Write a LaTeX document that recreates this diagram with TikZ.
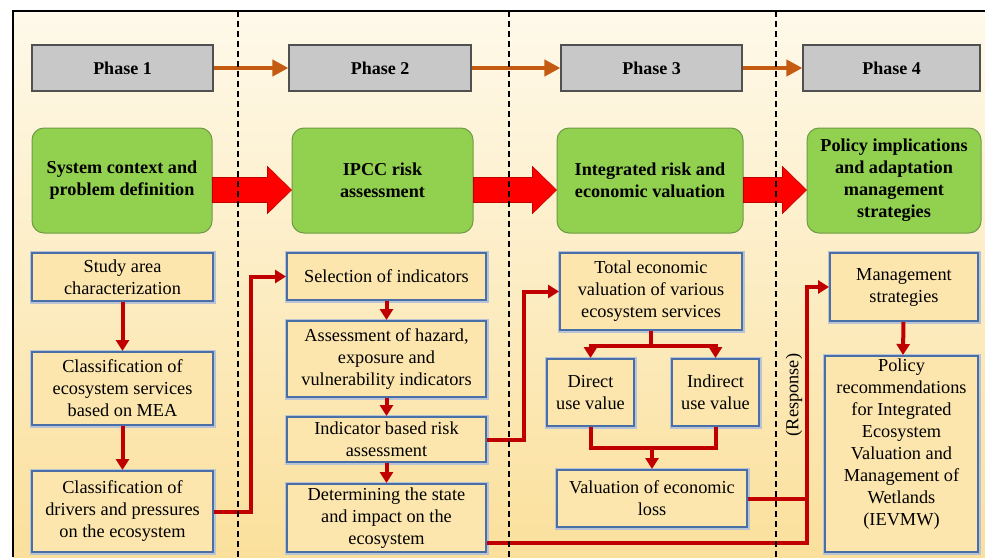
\documentclass[tikz,border=0pt]{standalone}
\usepackage{fontspec}
\setmainfont{Liberation Serif}
\usetikzlibrary{arrows.meta,calc,positioning}
\definecolor{bgtop}{HTML}{FEF9EA}
\definecolor{bgbot}{HTML}{FBE09C}
\definecolor{phasegrey}{HTML}{C8C8C8}
\definecolor{phaseline}{HTML}{505050}
\definecolor{stagegreen}{HTML}{92D050}
\definecolor{stageline}{HTML}{6E9A45}
\definecolor{taskfill}{HTML}{FCE6AE}
\definecolor{taskblue}{HTML}{4A6EA6}
\definecolor{taskglow}{HTML}{B9C3D6}
\definecolor{flowred}{HTML}{C00000}
\definecolor{blockred}{HTML}{FF0000}
\definecolor{phaseorange}{HTML}{C55A11}

\begin{document}
\begin{tikzpicture}[x=1pt,y=-1pt,
  phase/.style={draw=phaseline,fill=phasegrey,line width=1.2pt,
    minimum height=46pt,font=\fontsize{18}{21}\selectfont\bfseries},
  stage/.style={draw=stageline,fill=stagegreen,line width=1pt,
    rounded corners=12pt,minimum height=105pt,align=center,
    font=\fontsize{18.2}{22}\selectfont\bfseries},
  task/.style={draw=taskblue,fill=taskfill,line width=2pt,
    preaction={draw=taskglow,line width=5pt},align=center,inner sep=1pt,
    font=\fontsize{18.3}{22}\selectfont},
  tasktext/.style={align=center,inner sep=1pt,font=\fontsize{18.3}{22}\selectfont},
  flow/.style={flowred,line width=4pt,-{Triangle[length=11pt,width=13pt]}},
  link/.style={flowred,line width=4pt},
  nextphase/.style={phaseorange,line width=4pt,-{Triangle[length=16pt,width=16pt]}},
  bigarrow/.style={fill=blockred,draw=flowred,line width=.6pt},
  divider/.style={line width=1.5pt,dash pattern=on 6pt off 4pt}]
\useasboundingbox (0,0) rectangle (985,557);
\fill[white] (0,0) rectangle (985,557);
\shade[top color=bgtop,bottom color=bgbot] (13,11) rectangle (985,557);
\draw[line width=1.6pt] (13,557)--(13,11)--(985,11);

% phase headers
\foreach \n/\x/\w in {1/122.5/181,2/380/182,3/651.5/181,4/891.5/177}
  \node[phase,minimum width=\w pt] (p\n) at (\x,68) {Phase \n};
\foreach \a/\b in {1/2,2/3,3/4}
  \draw[nextphase] (p\a) -- (p\b);

% stages
\node[stage,minimum width=180pt] (g1) at (122,180.5)
  {System context and\\problem definition};
\node[stage,minimum width=181pt] (g2) at (382.5,180.5)
  {IPCC risk\\assessment};
\node[stage,minimum width=186pt] (g3) at (650,180.5)
  {Integrated risk and\\economic valuation};
\node[stage,minimum width=174pt] (g4) at (894,180.5)
  {Policy implications\\and adaptation\\management\\strategies};
\foreach \a/\b in {g1/g2,g2/g3,g3/g4}{
  \path ($(\a.east)+(0,9.5)$) coordinate (s) ($(\b.west)+(0,9.5)$) coordinate (t);
  \draw[bigarrow] ($(s)+(0,-12.5)$) -- ($(t)+(-24,-12.5)$)
    -- ($(t)+(-24,-23.5)$) -- (t) -- ($(t)+(-24,23.5)$)
    -- ($(t)+(-24,12.5)$) -- ($(s)+(0,12.5)$) -- cycle;
}

% phase 1 tasks
\node[task,minimum width=181pt,minimum height=48pt] (area) at (122.5,277)
  {Study area\\characterization};
\node[task,minimum width=181pt,minimum height=73pt] (services) at (122.5,388.5)
  {Classification of\\ecosystem services\\based on MEA};
\node[task,minimum width=181pt,minimum height=81pt] (drivers) at (122.5,511.5)
  {Classification of\\drivers and pressures\\on the ecosystem};

% phase 2 tasks
\node[task,minimum width=199pt,minimum height=47pt] (select) at (386.5,276.5)
  {Selection of indicators};
\node[task,minimum width=199pt,minimum height=76pt] (hazard) at (386.5,359)
  {Assessment of hazard,\\exposure and\\vulnerability indicators};
\node[task,minimum width=199pt,minimum height=45pt] (riskass) at (386.5,439.5)
  {Indicator based risk\\assessment};
\node[task,minimum width=199pt,minimum height=68pt] (state) at (386.5,518)
  {Determining the state\\and impact on the\\ecosystem};

% phase 3 tasks
\node[task,minimum width=182pt,minimum height=77pt] (total) at (651,291.5)
  {Total economic\\valuation of various\\ecosystem services};
\node[task,minimum width=87pt,minimum height=67pt] (direct) at (590.5,392.5)
  {Direct\\use value};
\node[task,minimum width=87pt,minimum height=67pt] (indirect) at (715.5,392.5)
  {Indirect\\use value};
\node[task,minimum width=190pt,minimum height=57pt] (loss) at (652,498.5)
  {Valuation of economic\\loss};

% phase 4 tasks
\node[task,minimum width=148pt,minimum height=68pt] (manage) at (904,287)
  {Management\\strategies};
\node[task,minimum width=153pt,minimum height=196pt] (policy) at (901.5,454) {};
\node[tasktext] (policytext) at (901.5,444.5)
  {Policy\\recommendations\\for Integrated\\Ecosystem\\Valuation and\\Management of\\Wetlands\\(IEVMW)};
\node[rotate=90,font=\fontsize{18.3}{20}\selectfont] (resp) at (794,395) {(Response)};

% connectors
\draw[flow] (area) -- (services);
\draw[flow] (services) -- (drivers);
\draw[flow] (drivers.east) -- ++(37,0) |- (select.west);
\foreach \a/\b in {select/hazard,hazard/riskass,riskass/state}
  \draw[flow] (\a) -- (\b);
\draw[flow] (riskass.east) -- ++(37,0) |- (total.west);
\coordinate (split) at ($(total.south)+(0,15)$);
\draw[link] (total.south) -- (split);
\draw[flow] (split) -| (direct.north);
\draw[flow] (split) -| (indirect.north);
\coordinate (merge) at ($(loss.north)+(0,-21)$);
\draw[link] (direct.south) |- (merge) -| (indirect.south);
\draw[flow] (merge) -- (loss.north);
\coordinate (up) at (807,287);
\draw[link] (loss.east) -- (loss.east -| up);
\draw[flow] ([yshift=10pt]state.south east) -| (up) -- (manage.west);
\draw[flow] (manage) -- (policy);

% phase dividers
\foreach \x in {238,509,776}
  \draw[divider] (\x,11) -- (\x,557);
\end{tikzpicture}
\end{document}
